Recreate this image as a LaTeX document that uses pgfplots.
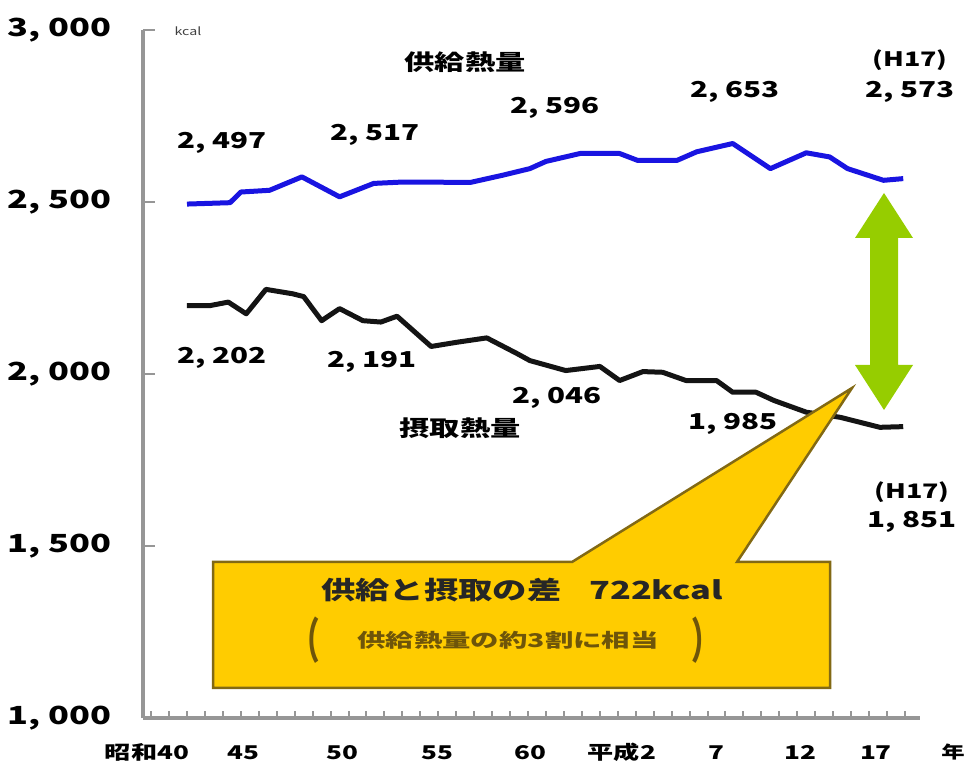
\documentclass[border=0pt]{standalone}
\usepackage{graphicx}
\usepackage{fontspec}
\setmainfont{Noto Sans CJK JP}
\usepackage{pgfplots}
\pgfplotsset{compat=1.18}
\definecolor{supply}{RGB}{25,20,225}
\definecolor{axgray}{RGB}{150,150,150}
\definecolor{gold}{RGB}{255,204,0}
\definecolor{goldedge}{RGB}{130,105,20}
\definecolor{olive}{RGB}{110,85,10}
\definecolor{arrowgreen}{RGB}{150,205,0}
\newcommand{\T}[3][1.38]{\scalebox{#1}[1]{\fontsize{#2}{#2}\selectfont\bfseries #3}}
\begin{document}
\begin{tikzpicture}
\begin{axis}[
  scale only axis, width=777bp, height=688bp,
  xmin=1962.549, xmax=2005.836, ymin=1000, ymax=3000,
  axis lines=left, axis line style={-, draw=axgray, line width=3.5bp},
  tick align=inside,
  ytick={1000,1500,2000,2500,3000},
  yticklabels={\T{25}{1, 000},\T{25}{1, 500},\T{25}{2, 000},\T{25}{2, 500},\T{25}{3, 000}},
  yticklabel style={anchor=east, xshift=-28bp},
  major tick length=12bp, minor tick length=7bp,
  every tick/.style={draw=axgray, line width=2bp},
  xtick={1962.77,1968.12,1973.64,1978.93,1984.11,1989.23,1994.47,1999.15,2003.38},
  xticklabels={\T{19}{昭和40},\T{19}{45},\T{19}{50},\T{19}{55},\T{19}{60},\T{19}{平成2},\T{19}{7},\T{19}{12},\T{19}{17}},
  every major x tick/.append style={draw=none},
  minor xtick={1963,1964,...,2005},
  xticklabel style={anchor=base, yshift=-41bp},
  clip=false,
]
\addplot[color=supply, line width=5bp, line join=round] coordinates {
(1965.0,2494) (1967.4,2498) (1968.0,2529) (1969.6,2534) (1971.4,2573)
(1973.5,2515) (1975.4,2554) (1977.0,2558) (1980.8,2557) (1982.6,2578)
(1984.1,2597) (1985.0,2618) (1986.9,2641) (1989.1,2641) (1990.1,2621)
(1992.3,2621) (1993.4,2646) (1995.4,2670) (1997.5,2597) (1999.5,2643)
(2000.8,2631) (2001.8,2597) (2003.8,2563) (2004.9,2568)
};
\addplot[color=black!92, line width=5bp, line join=round] coordinates {
(1965.0,2199) (1966.3,2199) (1967.3,2209) (1968.3,2175) (1969.4,2246)
(1970.9,2233) (1971.5,2225) (1972.5,2155) (1973.5,2190) (1974.8,2155)
(1975.8,2151) (1976.7,2168) (1978.6,2080) (1980.0,2092) (1981.7,2105)
(1983.4,2059) (1984.1,2039) (1986.1,2010) (1988.0,2022) (1989.1,1981)
(1990.4,2007) (1991.5,2005) (1992.8,1981) (1994.5,1981) (1995.4,1947)
(1996.7,1947) (1997.7,1923) (1999.5,1889) (2001.4,1874) (2003.6,1845)
(2004.9,1847)
};
\coordinate (SW) at (rel axis cs:0,0);
\end{axis}
\path ([xshift=-143bp,yshift=718bp]SW) coordinate (O);
\begin{scope}[shift={(O)}, x=1bp, y=-1bp]
  % callout
  \draw[fill=gold, draw=goldedge, line width=2.5bp, line join=miter]
    (213,562) -- (572,562) -- (852,388) -- (737,562) -- (830,562) -- (830,688) -- (213,688) -- cycle;
  \node[text=black!85] at (522,590) {\T{25}{供給と摂取の差\hspace{0.8em}722kcal}};
  \node[text=olive] at (508,640) {\T[1.5]{19}{供給熱量の約3割に相当}};
  \node[text=olive] at (306,640) {\scalebox{1.3}[2.2]{\fontsize{22}{22}\selectfont\bfseries （}};
  \node[text=olive] at (706,640) {\scalebox{1.3}[2.2]{\fontsize{22}{22}\selectfont\bfseries ）}};
  % double arrow
  \fill[arrowgreen] (884,193) -- (913,238) -- (898,238) -- (898,365) -- (913,365) -- (884,410)
     -- (855,365) -- (870,365) -- (870,238) -- (855,238) -- cycle;
  % labels
  \node[text=black!75] at (188,31) {\scalebox{1.3}[1]{\fontsize{11}{11}\selectfont kcal}};
  \node at (465,62) {\T{22}{供給熱量}};
  \node at (460,428) {\T{22}{摂取熱量}};
  \node at (222,143) {\T[1.35]{22}{2, 497}};
  \node at (375,135) {\T[1.35]{22}{2, 517}};
  \node at (555,108) {\T[1.35]{22}{2, 596}};
  \node at (735,92) {\T[1.35]{22}{2, 653}};
  \node at (910,60) {\T[1.35]{20}{(H17)}};
  \node at (910,92) {\T[1.35]{22}{2, 573}};
  \node at (222,358) {\T[1.35]{22}{2, 202}};
  \node at (372,362) {\T[1.35]{22}{2, 191}};
  \node at (557,398) {\T[1.35]{22}{2, 046}};
  \node at (733,424) {\T[1.35]{22}{1, 985}};
  \node at (912,492) {\T[1.35]{20}{(H17)}};
  \node at (912,522) {\T[1.35]{22}{1, 851}};
  \node[anchor=base] at (953,759) {\T{17}{年}};
  \pgfresetboundingbox
  \path (0,0) rectangle (971,767);
\end{scope}
\end{tikzpicture}
\end{document}
